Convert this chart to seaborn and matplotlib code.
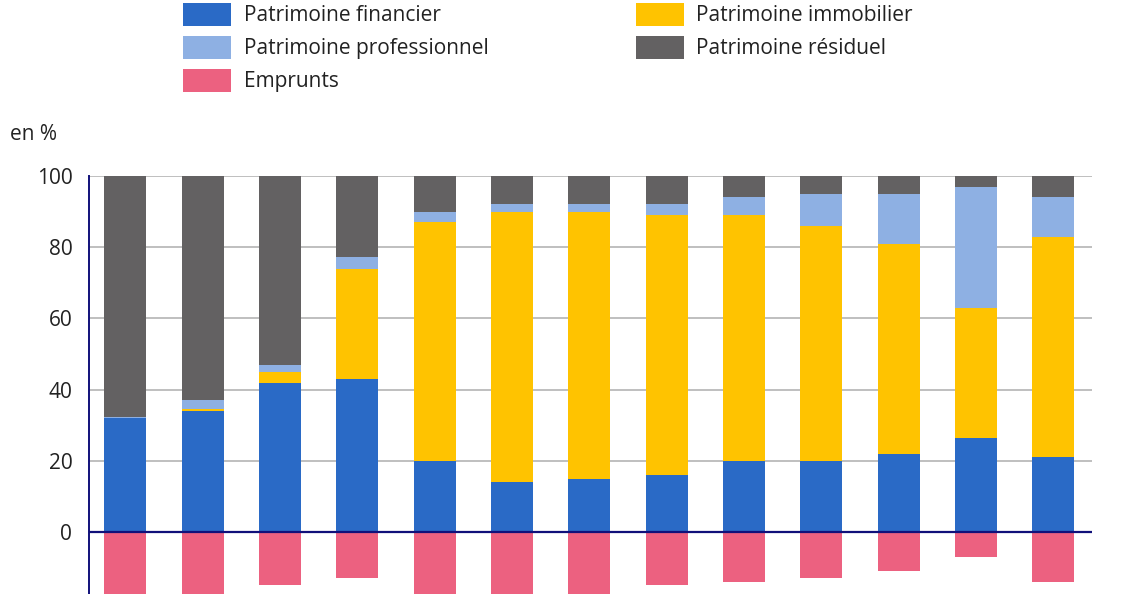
import numpy as np
import pandas as pd
import matplotlib
matplotlib.use("Agg")
import matplotlib.pyplot as plt
import seaborn as sns
from matplotlib.patches import Patch

# Data (in %)
groups = [f"G{i}" for i in range(1, 14)]
financier = [32, 34, 42, 43, 20, 14, 15, 16, 20, 20, 22, 26.5, 21]
immobilier = [0, 0.5, 3, 31, 67, 76, 75, 73, 69, 66, 59, 36.5, 62]
professionnel = [0.3, 2.6, 2, 3.3, 3, 2, 2, 3, 5, 9, 14, 34, 11]
residuel = [67.7, 62.9, 53, 22.7, 10, 8, 8, 8, 6, 5, 5, 3, 6]
emprunts = [-20, -20, -15, -13, -20, -20, -20, -15, -14, -13, -11, -7, -14]

colors = {
    "Patrimoine financier": "#2A6AC6",
    "Patrimoine immobilier": "#FFC300",
    "Patrimoine professionnel": "#8EB0E3",
    "Patrimoine résiduel": "#636162",
    "Emprunts": "#EC6180",
}

sns.set_theme(style="white")
plt.rcParams["font.family"] = ["Open Sans", "DejaVu Sans"]

fig = plt.figure(figsize=(11.32, 5.94), dpi=100)
ax = fig.add_axes([89 / 1132, 0, (1092 - 89) / 1132, 1 - 176 / 594])

# stacked bars drawn as overlapping cumulative layers
c1 = np.array(financier)
c2 = c1 + np.array(immobilier)
c3 = c2 + np.array(professionnel)
c4 = c3 + np.array(residuel)
layers = [
    ("Patrimoine résiduel", c4),
    ("Patrimoine professionnel", c3),
    ("Patrimoine immobilier", c2),
    ("Patrimoine financier", c1),
    ("Emprunts", np.array(emprunts)),
]
for name, vals in layers:
    df = pd.DataFrame({"groupe": groups, "valeur": vals})
    sns.barplot(data=df, x="groupe", y="valeur", color=colors[name],
                width=0.54, saturation=1, ax=ax, zorder=2, linewidth=0)

ax.set_xlim(-0.47, 12.5)
ax.set_ylim(-17.4, 100)
ax.set_yticks([0, 20, 40, 60, 80, 100])
ax.set_xticks([])
ax.set_xlabel("")
ax.set_ylabel("")
ax.yaxis.grid(True, color="#B4B4B4", linewidth=1.2, zorder=0)
ax.set_axisbelow(True)
ax.axhline(0, color="#10107A", linewidth=1.6, zorder=3)
for s in ["top", "right", "bottom"]:
    ax.spines[s].set_visible(False)
ax.spines["left"].set_color("#10107A")
ax.spines["left"].set_linewidth(1.4)
ax.tick_params(axis="y", length=0, pad=12, labelsize=15, labelcolor="#222222")

fig.text(10 / 1132, 1 - 134 / 594, "en %", fontsize=15, color="#222222",
         va="center", ha="left")

# legend
order = ["Patrimoine financier", "Patrimoine professionnel", "Emprunts",
         "Patrimoine immobilier", "Patrimoine résiduel"]
handles = [Patch(facecolor=colors[n], edgecolor="none", label=n) for n in order]
fig.legend(handles=handles, ncol=2, loc="upper left",
           bbox_to_anchor=(164 / 1132, 1 + 16 / 594), frameon=False,
           fontsize=15, handlelength=2.3, handleheight=1.35,
           handletextpad=0.62, labelspacing=0.45, columnspacing=7.07,
           labelcolor="#222222")

fig.savefig("out.png", dpi=100)
